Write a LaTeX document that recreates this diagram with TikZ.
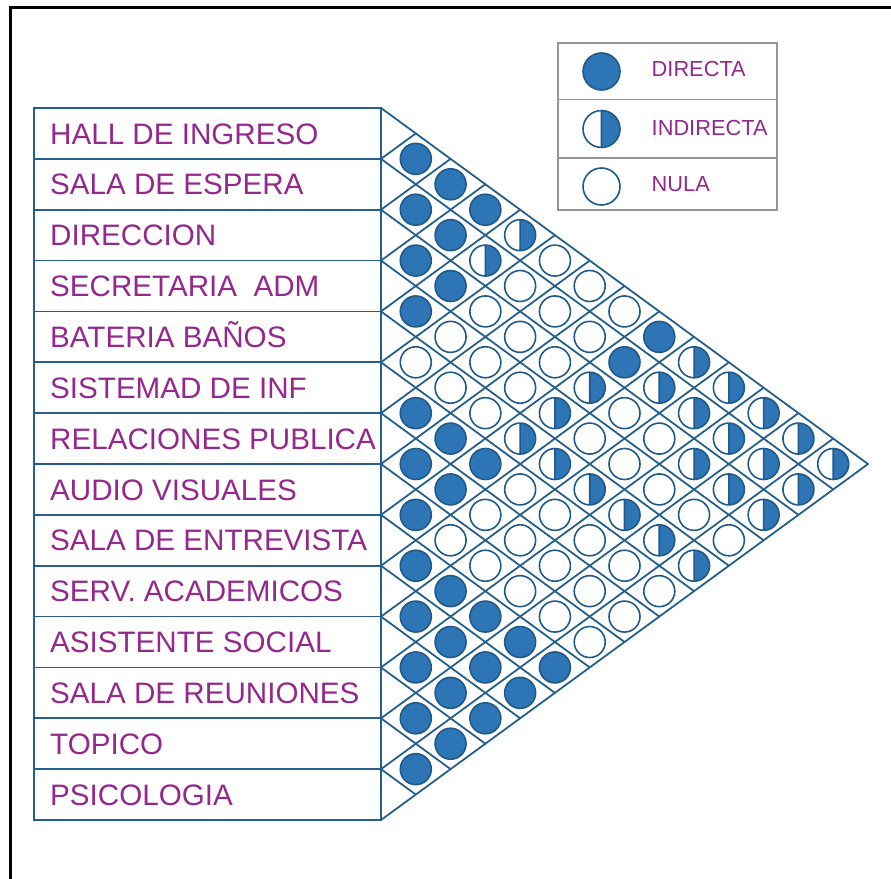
\documentclass[tikz,border=0pt]{standalone}
\usepackage{fontspec}
\setmainfont{Liberation Sans}
\definecolor{gline}{RGB}{37,96,140}
\definecolor{cfill}{RGB}{46,117,182}
\definecolor{cedge}{RGB}{31,90,138}
\definecolor{ptxt}{RGB}{148,40,140}
\definecolor{lgray}{RGB}{150,150,150}
\newcommand\relc[4]{% x y code radius
 \ifcase#3\relax
  \draw[cedgestyle,fill=white] (#1,#2) circle (#4);
 \or
  \fill[white] (#1,#2) circle (#4);
  \begin{scope}\clip (#1,#2-#4-1) rectangle (#1+#4+1,#2+#4+1); \fill[cfill] (#1,#2) circle (#4);\end{scope}
  \draw[cedgestyle] (#1,#2) circle (#4) (#1,#2-#4) -- (#1,#2+#4);
 \or
  \draw[cedgestyle,fill=cfill] (#1,#2) circle (#4);
 \fi}
\begin{document}
\begin{tikzpicture}[x=1pt,y=-1pt,
 gridline/.style={draw=gline,line width=1.8pt},
 rowbox/.style={draw=gline,line width=1.8pt,minimum width=347pt,minimum height=50.857pt,inner sep=0pt},
 rowlabel/.style={anchor=west,inner sep=0pt,text=ptxt,text height=21.2pt,text depth=0pt,font=\fontsize{29.6}{35}\selectfont},
 legtext/.style={anchor=west,inner sep=0pt,text=ptxt,text height=15.5pt,text depth=0pt,font=\fontsize{21.8}{26}\selectfont},
 cedgestyle/.style={draw=cedge,line width=1.6pt}]
\useasboundingbox (0,0) rectangle (891,878);
\draw[line width=3pt] (10,882) -- (10,7.5) -- (895,7.5);
% rows
\foreach \name [count=\k from 0] in {HALL DE INGRESO, SALA DE ESPERA, DIRECCION, SECRETARIA~~ADM, BATERIA BAÑOS, SISTEMAD DE INF, RELACIONES PUBLICA, AUDIO VISUALES, SALA DE ENTREVISTA, SERV. ACADEMICOS, ASISTENTE SOCIAL, SALA DE REUNIONES, TOPICO, PSICOLOGIA}{
  \pgfmathsetmacro\ry{108+(\k+0.5)*50.857}
  \node[rowbox] (row\k) at (207.5,\ry) {};
  \node[rowlabel] (lab\k) at (50,\ry) {\name};
}
% grid lines
\foreach \k in {0,...,14}{
  \pgfmathsetmacro\gy{108+\k*50.857}
  \pgfmathsetmacro\dn{14-\k}
  \draw[gridline,line cap=round] (381,\gy) -- ++({\dn*34.786},{\dn*25.4286});
  \draw[gridline,line cap=round] (381,\gy) -- ++({\k*34.786},{-\k*25.4286});
}
% relation circles
\foreach \d/\lst in {1/{2,2,2,2,0,2,2,2,2,2,2,2,2}, 2/{2,2,2,0,0,2,2,0,2,2,2,2}, 3/{2,1,0,0,0,2,0,0,2,2,2}, 4/{1,0,0,0,1,0,0,0,2,2}, 5/{0,0,0,1,1,0,0,0,2}, 6/{0,0,1,0,1,0,0,0}, 7/{0,2,0,0,1,0,0}, 8/{2,1,0,0,1,0}, 9/{1,1,1,0,1}, 10/{1,1,1,0}, 11/{1,1,1}, 12/{1,1}, 13/{1}}{
  \foreach \v [count=\i from 0] in \lst {
    \pgfmathsetmacro\cx{381+\d*34.786}
    \pgfmathsetmacro\cy{108+(2*\i+\d+1)*25.4286}
    \relc{\cx}{\cy}{\v}{15.5}
  }
}
% legend
\draw[lgray,line width=1.2pt] (558,43) rectangle (777,210);
\draw[lgray,line width=1.2pt] (558,99.5) -- (777,99.5) (558,158) -- (777,158);
\relc{601.5}{71.5}{2}{18.5}
\relc{601.5}{129}{1}{18.5}
\relc{601.5}{186.5}{0}{18.5}
\node[legtext] (legd) at (651.5,69) {DIRECTA};
\node[legtext] (legi) at (651.5,127.5) {INDIRECTA};
\node[legtext] (legn) at (651.5,184) {NULA};
\end{tikzpicture}
\end{document}
